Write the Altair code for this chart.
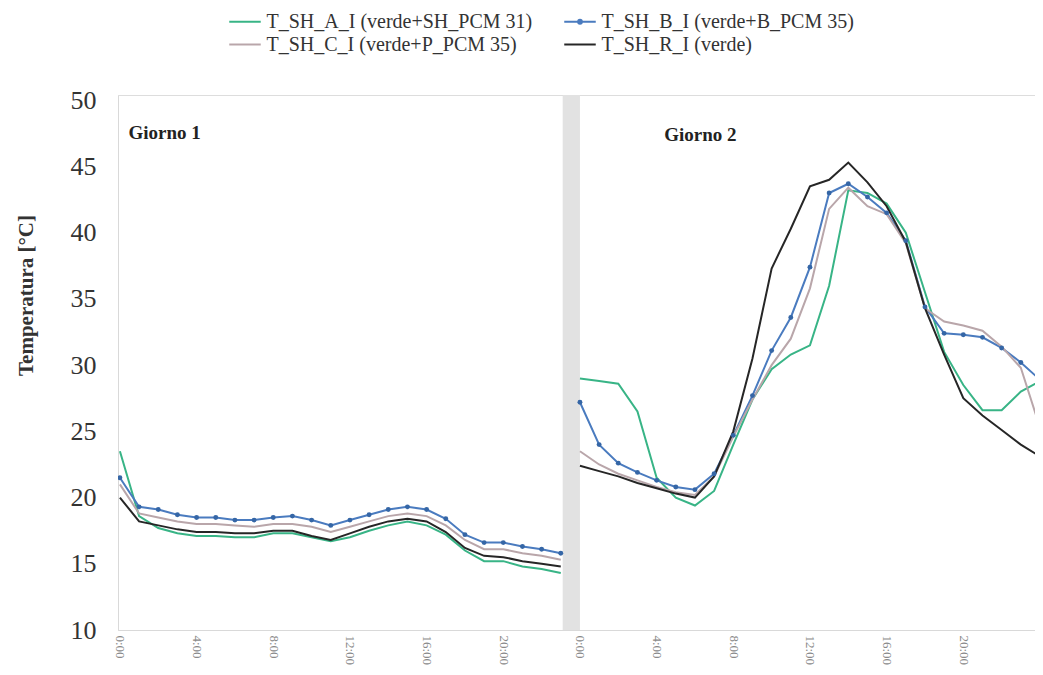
import altair as alt
import pandas as pd

# ---------------- data ----------------
hours_day1 = list(range(0, 24))
hours_day2 = list(range(24, 49))

series_names = [
    "T_SH_A_I (verde+SH_PCM 31)",
    "T_SH_B_I (verde+B_PCM 35)",
    "T_SH_C_I (verde+P_PCM 35)",
    "T_SH_R_I (verde)",
]
series_colors = ["#38b486", "#4a7bbf", "#b9a6aa", "#262626"]
# legend grid fills column by column: A, C | B, R  ->  rows A B / C R
legend_order = [series_names[0], series_names[2], series_names[1], series_names[3]]
legend_colors = [series_colors[0], series_colors[2], series_colors[1], series_colors[3]]

a_day1 = [23.5, 18.6, 17.7, 17.3, 17.1, 17.1, 17.0, 17.0, 17.3, 17.3, 17.0, 16.7,
          17.0, 17.5, 17.9, 18.2, 17.9, 17.2, 16.0, 15.2, 15.2, 14.8, 14.6, 14.3]
b_day1 = [21.5, 19.3, 19.1, 18.7, 18.5, 18.5, 18.3, 18.3, 18.5, 18.6, 18.3, 17.9,
          18.3, 18.7, 19.1, 19.3, 19.1, 18.4, 17.2, 16.6, 16.6, 16.3, 16.1, 15.8]
c_day1 = [21.0, 18.8, 18.5, 18.2, 18.0, 18.0, 17.9, 17.8, 18.0, 18.0, 17.8, 17.4,
          17.8, 18.2, 18.6, 18.8, 18.6, 17.9, 16.8, 16.1, 16.1, 15.8, 15.6, 15.3]
r_day1 = [20.0, 18.2, 17.9, 17.6, 17.4, 17.4, 17.3, 17.3, 17.5, 17.5, 17.1, 16.8,
          17.3, 17.8, 18.2, 18.4, 18.2, 17.4, 16.2, 15.6, 15.5, 15.2, 15.0, 14.8]

a_day2 = [29.0, 28.8, 28.6, 26.5, 21.5, 20.0, 19.4, 20.5, 24.0, 27.4, 29.7, 30.8,
          31.5, 36.0, 43.2, 43.0, 42.2, 40.0, 35.5, 31.0, 28.5, 26.6, 26.6, 28.0, 28.8]
b_day2 = [27.2, 24.0, 22.6, 21.9, 21.3, 20.8, 20.6, 21.8, 24.7, 27.7, 31.1, 33.6,
          37.4, 43.0, 43.7, 42.7, 41.5, 39.4, 34.4, 32.4, 32.3, 32.1, 31.3, 30.2, 28.9]
c_day2 = [23.5, 22.5, 21.8, 21.3, 20.8, 20.4, 20.2, 21.6, 24.6, 27.4, 30.0, 32.0,
          35.8, 41.8, 43.4, 42.0, 41.4, 39.2, 34.3, 33.3, 33.0, 32.6, 31.4, 29.8, 25.3]
r_day2 = [22.4, 22.0, 21.6, 21.1, 20.7, 20.3, 20.0, 21.6, 25.0, 30.5, 37.3, 40.3,
          43.5, 44.0, 45.3, 43.8, 42.0, 39.3, 34.3, 30.8, 27.5, 26.2, 25.1, 24.0, 23.1]

day_labels = ["Giorno 1", "Giorno 2"]
day_label_hour = [0.45, 28.4]
day_label_temp = [47.1, 46.9]

tick_hours = list(range(0, 48, 4))
y_ticks = list(range(10, 51, 5))

# ---------------- long table ----------------
rows = []
for name, d1, d2 in zip(series_names,
                        [a_day1, b_day1, c_day1, r_day1],
                        [a_day2, b_day2, c_day2, r_day2]):
    for h, v in zip(hours_day1, d1):
        rows.append({"series": name, "hour": h, "temp": v, "day": "1"})
    for h, v in zip(hours_day2, d2):
        rows.append({"series": name, "hour": h, "temp": v, "day": "2"})
df = pd.DataFrame(rows)
labels_df = pd.DataFrame({"label": day_labels, "hour": day_label_hour, "temp": day_label_temp})

SERIF = "Liberation Serif"

x_scale = alt.Scale(domain=[-0.1, 47.74], nice=False, zero=False)
y_scale = alt.Scale(domain=[10, 50.4], nice=False, zero=False)

x_axis = alt.Axis(values=tick_hours, labelExpr="(datum.value % 24) + ':00'",
                  labelAngle=90, labelFont=SERIF, labelFontSize=13, labelColor="#8a8a8a",
                  ticks=False, grid=False, domainColor="#d9d9d9", title=None, labelPadding=5)
y_axis = alt.Axis(values=y_ticks, title="Temperatura [°C]", labelFont=SERIF, labelFontSize=26,
                  labelColor="#333333", labelPadding=22, ticks=False, domainColor="#d9d9d9",
                  gridColor="#ececec", titleFont=SERIF, titleFontSize=21, titleFontWeight="bold",
                  titleColor="#333333", titleX=-92, titleY=200, titleAngle=270,
                  titleAlign="center", titleBaseline="middle")

dot_path = "M-1.5,0H1.5M0.18,0A0.18,0.18,0,1,1,-0.18,0A0.18,0.18,0,1,1,0.18,0"
line_path = "M-1.5,0H1.5"
legend = alt.Legend(
    title=None, orient="none", legendX=115.5, legendY=-85, columns=2,
    symbolType={"expr": f"datum.value == '{series_names[1]}' ? '{dot_path}' : '{line_path}'"},
    symbolSize=441, symbolStrokeWidth=2, labelFont=SERIF, labelFontSize=20,
    labelColor="#333333", labelOffset=10, columnPadding=27, rowPadding=1, labelLimit=500,
    padding=0,
)

base = alt.Chart(df)

band = alt.Chart(pd.DataFrame({"k": [0]})).mark_rect(color="#e2e2e2").encode(
    x=alt.datum(23.1, scale=x_scale), x2=alt.datum(24.0),
    y=alt.datum(10, scale=y_scale), y2=alt.datum(50.4),
)

lines = base.mark_line(strokeWidth=2, clip=True).encode(
    x=alt.X("hour:Q", scale=x_scale, axis=x_axis),
    y=alt.Y("temp:Q", scale=y_scale, axis=y_axis),
    color=alt.Color("series:N", scale=alt.Scale(domain=legend_order, range=legend_colors),
                    legend=legend, sort=legend_order),
    detail="day:N",
    order=alt.Order("hour:Q"),
)

points = base.transform_filter(alt.datum.series == series_names[1]).mark_point(
    filled=True, size=24, color="#3566a6", opacity=1, clip=True
).encode(x="hour:Q", y="temp:Q")

texts = alt.Chart(labels_df).mark_text(
    font=SERIF, fontSize=19, fontWeight="bold", color="#222222", align="left", baseline="alphabetic"
).encode(x="hour:Q", y="temp:Q", text="label:N")

chart = alt.layer(band, lines, points, texts).properties(
    width=917, height=535,
    autosize=alt.AutoSizeParams(type="none"),
    padding={"left": 110, "top": 87, "right": 0, "bottom": 37},
).configure_view(stroke=None).configure(background="white", font=SERIF)

chart.save("out.html", embed_options={"renderer": "svg", "actions": False})
